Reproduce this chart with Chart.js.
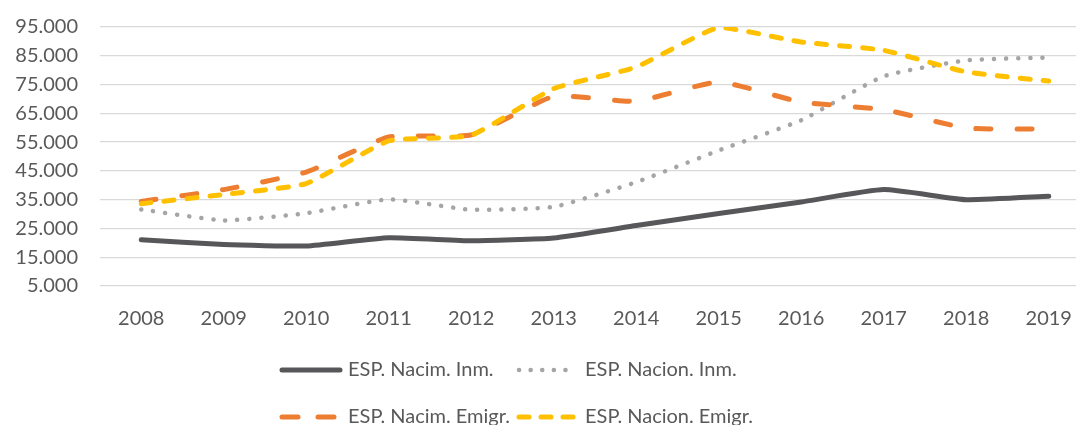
<!DOCTYPE html>
<html>
<head>
<meta charset="utf-8">
<script src="https://cdn.jsdelivr.net/npm/chart.js@4/dist/chart.umd.min.js"></script>
<style>
html,body{margin:0;padding:0;overflow:hidden;background:#fff;}
#wrap{width:1090px;height:425px;}
</style>
</head>
<body>
<div id="wrap"><canvas id="c" width="1090" height="425"></canvas></div>
<script>
const years = ['2008','2009','2010','2011','2012','2013','2014','2015','2016','2017','2018','2019'];
const nacimInm    = [21100, 19400, 18900, 21800, 20700, 21700, 26000, 30200, 34200, 38500, 35000, 36200];
const nacionInm   = [31600, 27800, 30300, 35100, 31500, 32500, 41100, 52100, 62600, 77900, 83400, 84400];
const nacimEmigr  = [34400, 38500, 44600, 56800, 57500, 70900, 69200, 75900, 68900, 66300, 59900, 59500];
const nacionEmigr = [33600, 36800, 40600, 55400, 57400, 73600, 81100, 94800, 89800, 86900, 79400, 76200];
const seriesNames = ['ESP. Nacim. Inm.', 'ESP. Nacion. Inm.', 'ESP. Nacim. Emigr.', 'ESP. Nacion. Emigr.'];
const yMin = 5000, yMax = 95000, yStep = 10000;

const FONT = 'Lato';
const TXT = '#595959';

function fmt(v){ return String(v).replace(/\B(?=(\d{3})+(?!\d))/g, '.'); }

const legendPlugin = {
  id: 'gridLegend',
  afterDraw(chart){
    const ctx = chart.ctx;
    const ds = chart.data.datasets;
    const cols = [280, 517];
    const rows = [370, 417];
    const sampleW = 60;
    ctx.save();
    ctx.font = '20px ' + FONT;
    ctx.fillStyle = TXT;
    ctx.textBaseline = 'middle';
    ds.forEach((d, i) => {
      const x = cols[i % 2], y = rows[Math.floor(i / 2)];
      ctx.save();
      ctx.strokeStyle = d.borderColor;
      ctx.lineWidth = d.borderWidth;
      ctx.lineCap = d.borderCapStyle || 'butt';
      ctx.setLineDash(d.legendDash || d.borderDash || []);
      ctx.beginPath();
      ctx.moveTo(x + 2, y);
      ctx.lineTo(x + sampleW, y);
      ctx.stroke();
      ctx.restore();
      ctx.fillText(d.label, x + 68, y);
    });
    ctx.restore();
  }
};

new Chart(document.getElementById('c'), {
  type: 'line',
  data: {
    labels: years,
    datasets: [
      { label: seriesNames[0], data: nacimInm, borderColor: '#57575A', borderWidth: 5, borderCapStyle: 'round', order: 3 },
      { label: seriesNames[1], data: nacionInm, borderColor: '#A5A5A5', borderWidth: 4.5, borderCapStyle: 'round', borderDash: [0.1, 12], legendDash: [0.1, 11.5], order: 2 },
      { label: seriesNames[2], data: nacimEmigr, borderColor: '#ED7D31', borderWidth: 5, borderCapStyle: 'round', borderDash: [15, 26], legendDash: [16, 20], order: 1 },
      { label: seriesNames[3], data: nacionEmigr, borderColor: '#FFC000', borderWidth: 5, borderCapStyle: 'round', borderDash: [10, 13], legendDash: [10, 12], order: 0 }
    ]
  },
  options: {
    responsive: false,
    animation: false,
    devicePixelRatio: 1,
    layout: { padding: { top: 27, left: 0, right: 0, bottom: 89 } },
    elements: { point: { radius: 0 }, line: { tension: 0.15, fill: false } },
    plugins: { legend: { display: false }, tooltip: { enabled: false } },
    scales: {
      x: {
        offset: true,
        grid: { display: false, drawTicks: false },
        border: { display: false },
        ticks: { color: TXT, font: { family: FONT, size: 20 }, padding: 21, maxRotation: 0 },
        afterFit(s){ s.height = 50; s.paddingLeft = 0; s.paddingRight = 0; }
      },
      y: {
        min: yMin, max: yMax,
        grid: { color: '#D9D9D9', lineWidth: 1.3, drawTicks: false },
        border: { display: false },
        ticks: { stepSize: yStep, color: TXT, font: { family: FONT, size: 20 }, padding: 22, callback: v => fmt(v) },
        afterFit(s){ s.width = 100; s.paddingTop = 0; s.paddingBottom = 0; }
      }
    }
  },
  plugins: [legendPlugin]
});
</script>
</body>
</html>
